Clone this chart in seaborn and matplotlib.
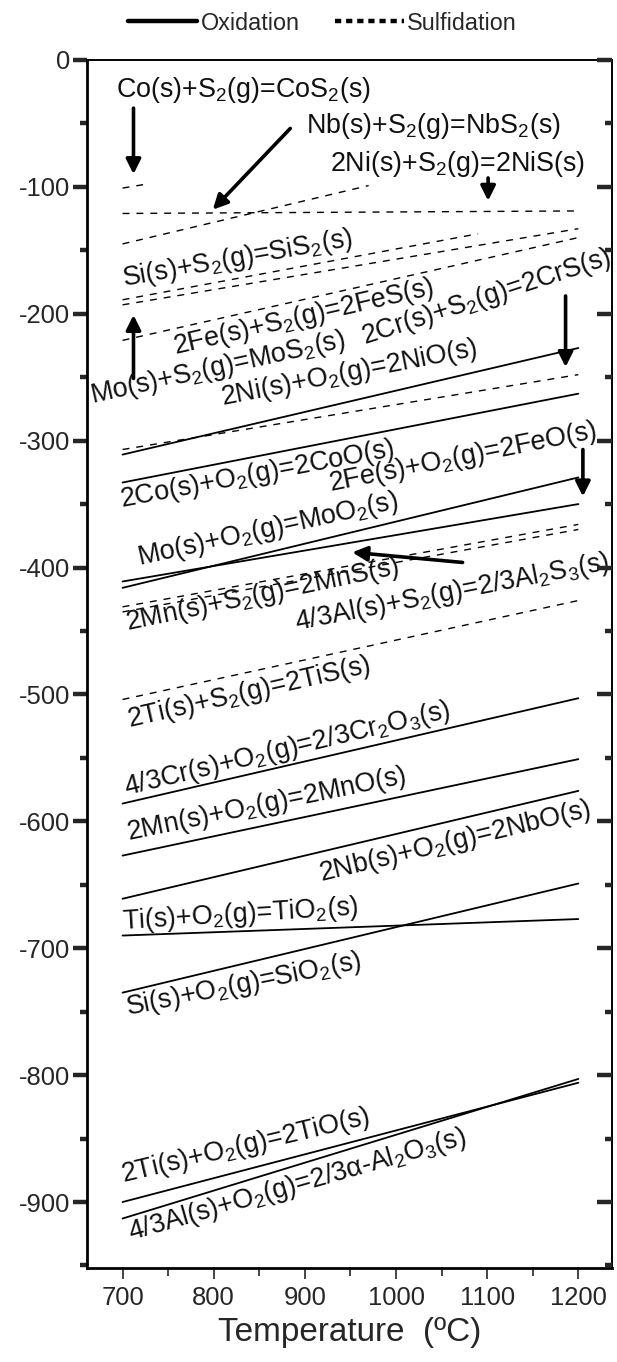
import matplotlib
matplotlib.use('Agg')
import matplotlib.pyplot as plt
import seaborn as sns
import pandas as pd
from matplotlib import font_manager
from matplotlib.lines import Line2D
from matplotlib.ticker import MultipleLocator

# ---------------- data ----------------
ox_reactions = ['NiO', 'CoO', 'FeO', 'MoO2', 'Cr2O3', 'MnO', 'NbO', 'TiO2', 'SiO2', 'TiO', 'Al2O3']
ox_t_start = [700, 700, 700, 700, 700, 700, 700, 700, 700, 700, 700]
ox_t_end = [1200, 1200, 1200, 1200, 1200, 1200, 1200, 1200, 1200, 1200, 1200]
ox_dg_start = [-311, -333, -411, -416, -586, -627, -661, -690, -735, -900, -913]
ox_dg_end = [-227, -263, -350, -329, -503, -551, -576, -677, -649, -806, -803]

sul_reactions = ['CoS2', 'NbS2', 'NiS', 'SiS2', 'FeS', 'MoS2', 'CrS', 'MnS', 'Al2S3', 'TiS']
sul_t_start = [700, 700, 700, 700, 700, 700, 700, 700, 700, 700]
sul_t_end = [725, 1200, 970, 1090, 1200, 1200, 1200, 1200, 1200, 1200]
sul_dg_start = [-101, -121, -145, -189, -193, -221, -307, -431, -435, -504]
sul_dg_end = [-98, -119, -99, -137, -133, -140, -248, -366, -370, -426]

x_ticks = [700, 800, 900, 1000, 1100, 1200]
y_ticks = [0, -100, -200, -300, -400, -500, -600, -700, -800, -900]
legend_labels = ['Oxidation', 'Sulfidation']
x_label = 'Temperature  (ºC)'

# ---------------- style ----------------
sns.set_style('ticks')
names = {f.name for f in font_manager.fontManager.ttflist}
if 'Liberation Sans Narrow' in names:
    FAM, K = 'Liberation Sans Narrow', 1.0
else:
    FAM, K = 'Liberation Sans', 0.84
plt.rcParams['font.family'] = [FAM, 'DejaVu Sans']
plt.rcParams['mathtext.fontset'] = 'custom'
plt.rcParams['mathtext.rm'] = FAM
plt.rcParams['mathtext.it'] = FAM
plt.rcParams['mathtext.bf'] = FAM
plt.rcParams['axes.unicode_minus'] = False

rows = []
for n, t0, t1, g0, g1 in zip(ox_reactions, ox_t_start, ox_t_end, ox_dg_start, ox_dg_end):
    rows.append(dict(reaction=n, T=t0, dG=g0, kind='Oxidation'))
    rows.append(dict(reaction=n, T=t1, dG=g1, kind='Oxidation'))
for n, t0, t1, g0, g1 in zip(sul_reactions, sul_t_start, sul_t_end, sul_dg_start, sul_dg_end):
    rows.append(dict(reaction=n, T=t0, dG=g0, kind='Sulfidation'))
    rows.append(dict(reaction=n, T=t1, dG=g1, kind='Sulfidation'))
df = pd.DataFrame(rows)

fig = plt.figure(figsize=(6.17, 13.62), dpi=100)
ax = fig.add_axes([0.141, 0.069, 0.851, 0.887])

sns.lineplot(data=df[df.kind == 'Oxidation'], x='T', y='dG', units='reaction',
             estimator=None, sort=False, color='black', lw=1.3, ax=ax, legend=False)
sns.lineplot(data=df[df.kind == 'Sulfidation'], x='T', y='dG', units='reaction',
             estimator=None, sort=False, color='black', lw=1.0,
             linestyle=(0, (5, 5)), ax=ax, legend=False)

ax.set_xlim(661, 1237)
ax.set_ylim(-952, 0)
ax.set_xticks(x_ticks)
ax.set_yticks(y_ticks)
ax.xaxis.set_minor_locator(MultipleLocator(50))
ax.yaxis.set_minor_locator(MultipleLocator(50))
ax.set_xlabel(x_label, fontsize=28.5 * K, labelpad=5)
ax.set_ylabel('')
ax.tick_params(axis='y', which='major', direction='out', length=10, width=3.2,
               labelsize=22 * K, pad=2, right=False)
ax.tick_params(axis='y', which='minor', direction='out', length=5, width=3.2, right=False)
ax.tick_params(axis='x', which='major', direction='out', length=8, width=1.2,
               labelsize=22 * K, pad=5, top=False)
ax.tick_params(axis='x', which='minor', direction='out', length=6, width=1.2, top=False)
for side, w in [('left', 2.0), ('bottom', 2.0), ('top', 1.4), ('right', 1.4)]:
    ax.spines[side].set_linewidth(w)
    ax.spines[side].set_color('black')

ax2 = ax.twinx()
ax2.set_ylim(ax.get_ylim())
ax2.set_yticks(y_ticks)
ax2.yaxis.set_minor_locator(MultipleLocator(50))
ax2.tick_params(axis='y', which='major', direction='in', length=11, width=3.2, labelright=False)
ax2.tick_params(axis='y', which='minor', direction='in', length=5, width=3.2)
for s in ax2.spines.values():
    s.set_visible(False)

# ---------------- annotations ----------------
FS = 23 * K
labels = [
    ('Co(s)+S$_2$(g)=CoS$_2$(s)', 833, -24, 0),
    ('Nb(s)+S$_2$(g)=NbS$_2$(s)', 1041, -52, 0),
    ('2Ni(s)+S$_2$(g)=2NiS(s)', 1067, -82, 0),
    ('Si(s)+S$_2$(g)=SiS$_2$(s)', 826, -157, 10),
    ('2Fe(s)+S$_2$(g)=2FeS(s)', 899, -203, 13),
    ('2Cr(s)+S$_2$(g)=2CrS(s)', 1099, -187, 18),
    ('Mo(s)+S$_2$(g)=MoS$_2$(s)', 805, -243, 12.5),
    ('2Ni(s)+O$_2$(g)=2NiO(s)', 949, -247, 11),
    ('2Co(s)+O$_2$(g)=2CoO(s)', 848, -327, 10.6),
    ('2Fe(s)+O$_2$(g)=2FeO(s)', 1073, -313, 11.3),
    ('Mo(s)+O$_2$(g)=MoO$_2$(s)', 860, -370, 12.4),
    ('2Mn(s)+S$_2$(g)=2MnS(s)', 854, -422, 11.7),
    ('4/3Al(s)+S$_2$(g)=2/3Al$_2$S$_3$(s)', 1062, -420, 11),
    ('2Ti(s)+S$_2$(g)=2TiS(s)', 839, -499, 12.8),
    ('4/3Cr(s)+O$_2$(g)=2/3Cr$_2$O$_3$(s)', 881, -543, 13.5),
    ('2Mn(s)+O$_2$(g)=2MnO(s)', 858, -587, 11.6),
    ('2Nb(s)+O$_2$(g)=2NbO(s)', 1065, -616, 13.5),
    ('Ti(s)+O$_2$(g)=TiO$_2$(s)', 829, -674, 3.5),
    ('Si(s)+O$_2$(g)=SiO$_2$(s)', 833, -729, 11.3),
    ('2Ti(s)+O$_2$(g)=2TiO(s)', 835, -856, 13.3),
    ('4/3Al(s)+O$_2$(g)=2/3α-Al$_2$O$_3$(s)', 892, -887, 16),
]
for s, x, y, r in labels:
    ax.text(x, y, s, fontsize=FS, rotation=r, rotation_mode='anchor',
            ha='center', va='center', color='#111111')

arrows = [
    ((712, -90), (712, -38)),
    ((799, -118), (884, -54)),
    ((1101, -111), (1101, -93)),
    ((712, -201), (712, -251)),
    ((1186, -242), (1186, -186)),
    ((1205, -344), (1205, -307)),
    ((952, -388), (1073, -396)),
]
for tip, tail in arrows:
    ax.annotate('', xy=tip, xytext=tail,
                arrowprops=dict(arrowstyle='-|>', lw=2.6, color='black',
                                mutation_scale=22, shrinkA=0, shrinkB=0))

LFS = 20 * K
handles = [Line2D([], [], color='black', lw=3.2),
           Line2D([], [], color='black', lw=3.2, linestyle=(0, (1.4, 1.1)))]
fig.legend(handles=handles, labels=legend_labels, loc='center',
           bbox_to_anchor=(0.523, 0.983), ncol=2, frameon=False, fontsize=LFS,
           handlelength=69 / (LFS * 1.389), handletextpad=0.15, columnspacing=1.5)

fig.savefig('out.png', dpi=100)
